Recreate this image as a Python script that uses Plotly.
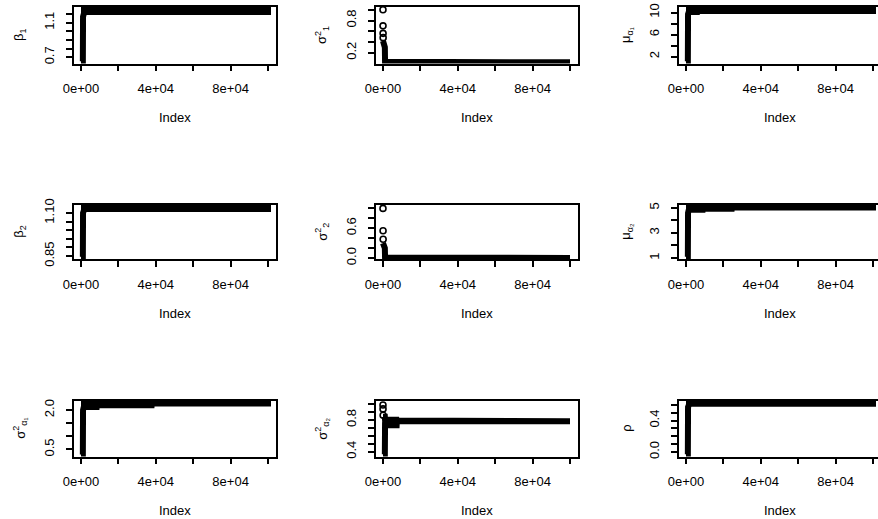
import plotly.graph_objects as go

# ---------------- data ----------------
index_ticks = [0, 20000, 40000, 60000, 80000, 100000]
index_labelled = [0, 40000, 80000]
index_ticktext = ["0e+00", "4e+04", "8e+04"]

# envelope of each MCMC trace: iteration index, lower and upper edge of the dense band
beta1_idx = [1, 1000, 1100, 1800, 100000]
beta1_lo = [0.655, 0.655, 1.17, 1.223, 1.223]
beta1_hi = [1.262, 1.262, 1.262, 1.262, 1.262]

sig1_idx = [1, 400, 800, 1000, 1100, 100000]
sig1_lo = [0.02, 0.02, 0.02, 0.02, 0.02, 0.02]
sig1_hi = [0.42, 0.40, 0.36, 0.30, 0.03, 0.03]
sig1_out_idx = [1, 20, 50, 90]
sig1_out_val = [1.0, 0.70, 0.56, 0.48]

mua1_idx = [1, 1000, 1100, 1500, 6000, 6100, 100000]
mua1_lo = [1.15, 1.15, 9.7, 10.12, 10.12, 10.30, 10.30]
mua1_hi = [10.71, 10.71, 10.71, 10.71, 10.71, 10.71, 10.71]

beta2_idx = [1, 1000, 1100, 1800, 100000]
beta2_lo = [0.845, 0.845, 1.10, 1.123, 1.123]
beta2_hi = [1.137, 1.137, 1.137, 1.137, 1.137]

sig2_idx = [1, 400, 800, 1000, 1100, 100000]
sig2_lo = [0.0, 0.0, 0.0, 0.0, 0.0, 0.0]
sig2_hi = [0.30, 0.28, 0.25, 0.20, 0.012, 0.012]
sig2_out_idx = [1, 40, 90]
sig2_out_val = [1.0, 0.55, 0.38]

mua2_idx = [1, 1000, 1100, 1500, 9000, 9100, 24500, 24600, 100000]
mua2_lo = [1.09, 1.09, 4.6, 4.84, 4.84, 4.92, 4.92, 5.02, 5.02]
mua2_hi = [5.10, 5.10, 5.10, 5.10, 5.10, 5.10, 5.10, 5.10, 5.10]

siga1_idx = [1, 1000, 1100, 1500, 8400, 8500, 37800, 37900, 100000]
siga1_lo = [0.31, 0.31, 2.0, 2.115, 2.115, 2.18, 2.18, 2.25, 2.25]
siga1_hi = [2.30, 2.30, 2.30, 2.30, 2.30, 2.30, 2.30, 2.30, 2.30]

siga2_idx = [1, 1000, 1100, 7300, 7400, 100000]
siga2_lo = [0.366, 0.366, 0.733, 0.733, 0.785, 0.785]
siga2_hi = [0.84, 0.84, 0.804, 0.804, 0.795, 0.795]
siga2_out_idx = [1, 30, 80]
siga2_out_val = [0.99, 0.94, 0.86]

rho_idx = [1, 1000, 1100, 1800, 100000]
rho_lo = [-0.03, -0.03, 0.57, 0.613, 0.613]
rho_hi = [0.625, 0.625, 0.625, 0.625, 0.625]

# y ticks (all tick marks) and the labels R printed
beta1_ticks = [0.7, 0.8, 0.9, 1.0, 1.1, 1.2]
beta1_labels = {0.7: "0.7", 1.1: "1.1"}
sig1_ticks = [0.2, 0.4, 0.6, 0.8, 1.0]
sig1_labels = {0.2: "0.2", 0.8: "0.8"}
mua1_ticks = [2, 4, 6, 8, 10]
mua1_labels = {2: "2", 6: "6", 10: "10"}
beta2_ticks = [0.85, 0.90, 0.95, 1.00, 1.05, 1.10]
beta2_labels = {0.85: "0.85", 1.10: "1.10"}
sig2_ticks = [0.0, 0.2, 0.4, 0.6, 0.8, 1.0]
sig2_labels = {0.0: "0.0", 0.6: "0.6"}
mua2_ticks = [1, 2, 3, 4, 5]
mua2_labels = {1: "1", 3: "3", 5: "5"}
siga1_ticks = [0.5, 1.0, 1.5, 2.0]
siga1_labels = {0.5: "0.5", 2.0: "2.0"}
siga2_ticks = [0.4, 0.5, 0.6, 0.7, 0.8, 0.9, 1.0]
siga2_labels = {0.4: "0.4", 0.8: "0.8"}
rho_ticks = [0.0, 0.1, 0.2, 0.3, 0.4, 0.5, 0.6]
rho_labels = {0.0: "0.0", 0.4: "0.4"}

y_titles = ["β<sub>1</sub>", "σ<sup>2</sup><sub>1</sub>", "μ<sub>α₁</sub>",
            "β<sub>2</sub>", "σ<sup>2</sup><sub>2</sub>", "μ<sub>α₂</sub>",
            "σ<sup>2</sup><sub>α₁</sub>", "σ<sup>2</sup><sub>α₂</sub>", "ρ"]

panels = [
    (beta1_idx, beta1_lo, beta1_hi, None, None, beta1_ticks, beta1_labels, [0.628, 1.287]),
    (sig1_idx, sig1_lo, sig1_hi, sig1_out_idx, sig1_out_val, sig1_ticks, sig1_labels, [-0.002, 1.061]),
    (mua1_idx, mua1_lo, mua1_hi, None, None, mua1_ticks, mua1_labels, [0.764, 11.096]),
    (beta2_idx, beta2_lo, beta2_hi, None, None, beta2_ticks, beta2_labels, [0.8327, 1.1488]),
    (sig2_idx, sig2_lo, sig2_hi, sig2_out_idx, sig2_out_val, sig2_ticks, sig2_labels, [-0.019, 1.078]),
    (mua2_idx, mua2_lo, mua2_hi, None, None, mua2_ticks, mua2_labels, [0.92, 5.264]),
    (siga1_idx, siga1_lo, siga1_hi, None, None, siga1_ticks, siga1_labels, [0.231, 2.346]),
    (siga2_idx, siga2_lo, siga2_hi, siga2_out_idx, siga2_out_val, siga2_ticks, siga2_labels, [0.339, 1.04]),
    (rho_idx, rho_lo, rho_hi, None, None, rho_ticks, rho_labels, [-0.057, 0.648]),
]

# ---------------- layout geometry (pixels) ----------------
W, H = 878, 519
col_left = [73.5, 375.5, 678.5]
col_right = [275.5, 577.5, 878.0]
col_title_x = [20, 322, 627]
row_top = [6.5, 204.5, 401.0]
row_bottom = [63.5, 259.0, 456.5]
x_ranges = [[-4000, 104000], [-4000, 104000], [-4000, 102660]]
x_center = [174.5, 476.5, 779.5]

FONT = "Liberation Sans, Arial, Helvetica, sans-serif"

fig = go.Figure()
layout = dict(width=W, height=H, autosize=False, margin=dict(l=0, r=0, t=0, b=0, pad=0),
              paper_bgcolor="white", plot_bgcolor="white", showlegend=False,
              font=dict(family=FONT, size=13, color="black"))
annotations = []

axis_common = dict(showline=True, mirror=True, linecolor="black", linewidth=1.8,
                   ticks="outside", ticklen=6, tickwidth=1.6, tickcolor="black",
                   showgrid=False, zeroline=False, automargin=False,
                   tickfont=dict(family=FONT, size=13, color="black"))

for k, (idx, lo, hi, oidx, oval, yt, yl, yr) in enumerate(panels):
    r, c = divmod(k, 3)
    sfx = "" if k == 0 else str(k + 1)
    xa, ya = "x" + sfx, "y" + sfx
    px = list(idx) + list(idx)[::-1]
    py = list(lo) + list(hi)[::-1]
    fig.add_trace(go.Scatter(x=px, y=py, xaxis=xa, yaxis=ya, mode="lines",
                             fill="toself", fillcolor="black",
                             line=dict(color="black", width=6), hoverinfo="skip"))
    if oidx is not None:
        fig.add_trace(go.Scatter(x=oidx, y=oval, xaxis=xa, yaxis=ya, mode="markers",
                                 marker=dict(symbol="circle-open", size=6, color="black",
                                             line=dict(width=1.6, color="black"))))
    layout["xaxis" + sfx] = dict(axis_common, domain=[col_left[c] / W, col_right[c] / W],
                                 anchor=ya, range=x_ranges[c], tickmode="array",
                                 tickvals=index_labelled, ticktext=index_ticktext,
                                 ticklabelstandoff=6,
                                 minor=dict(tickmode="array", tickvals=index_ticks, ticks="outside",
                                            ticklen=6, tickwidth=1.6, tickcolor="black"))
    layout["yaxis" + sfx] = dict(axis_common, domain=[1 - row_bottom[r] / H, 1 - row_top[r] / H],
                                 anchor=xa, range=yr, tickmode="array",
                                 tickvals=list(yl.keys()), ticktext=list(yl.values()),
                                 tickangle=-90, ticklabelstandoff=6,
                                 minor=dict(tickmode="array", tickvals=yt, ticks="outside",
                                            ticklen=6, tickwidth=1.6, tickcolor="black"))
    annotations.append(dict(text="Index", xref="paper", yref="paper",
                            x=x_center[c] / W, y=1 - (row_bottom[r] + 54) / H,
                            xanchor="center", yanchor="middle", showarrow=False,
                            font=dict(family=FONT, size=13, color="black")))
    annotations.append(dict(text=y_titles[k], xref="paper", yref="paper",
                            x=col_title_x[c] / W, y=1 - (row_top[r] + row_bottom[r]) / 2 / H,
                            xanchor="center", yanchor="middle", textangle=-90, showarrow=False,
                            font=dict(family=FONT, size=13, color="black")))

layout["annotations"] = annotations
fig.update_layout(**layout)
fig.write_html("out.html")
